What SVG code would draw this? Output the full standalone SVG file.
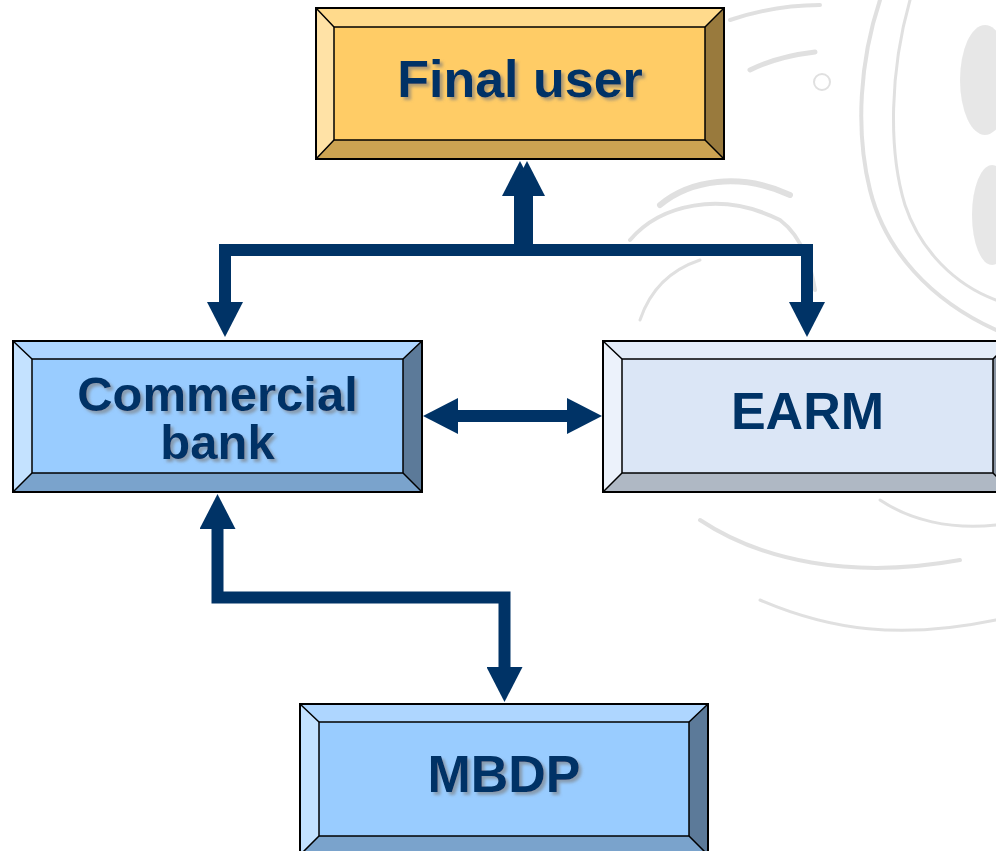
<svg xmlns="http://www.w3.org/2000/svg" width="996" height="851" viewBox="0 0 996 851">
<defs>
<style>
.lbl{font-family:"Liberation Sans",Arial,sans-serif;font-weight:bold;font-size:52px;fill:#003366;text-anchor:middle}
.lbl2{font-size:49px}
.ol{fill:none;stroke:#000;stroke-width:2}
.dg{stroke:#000;stroke-width:1.5}
.con{fill:none;stroke:#003366;stroke-width:12;stroke-linejoin:miter;marker-start:url(#ah);marker-end:url(#ah)}
.wm{fill:none;stroke:#d6d6d6;stroke-linecap:round}
</style>
<marker id="ah" viewBox="0 0 35 36" refX="1" refY="18" markerWidth="35" markerHeight="36" markerUnits="userSpaceOnUse" orient="auto-start-reverse">
<path d="M0,0 L35,18 L0,36 Z" fill="#003366"/>
</marker>
<filter id="sh" x="-10%" y="-20%" width="130%" height="150%">
<feDropShadow dx="3" dy="3" stdDeviation="1.5" flood-color="#7a7a7a" flood-opacity="0.6"/>
</filter>
</defs>
<rect width="996" height="851" fill="#fff"/>
<g id="watermark" opacity="0.75">
<path class="wm" stroke-width="4" d="M880,0 C860,60 855,130 870,190 C885,250 930,300 996,330"/>
<path class="wm" stroke-width="3" d="M910,0 C890,70 888,150 905,205 C920,250 955,285 996,300"/>
<path class="wm" stroke-width="6" d="M660,205 C690,180 740,172 790,195"/>
<path class="wm" stroke-width="4" d="M630,240 C660,205 720,190 780,220 C800,235 810,260 815,290"/>
<path class="wm" stroke-width="3" d="M640,320 C650,290 670,270 700,260"/>
<path class="wm" stroke-width="5" d="M750,70 C770,60 790,55 815,52"/>
<path class="wm" stroke-width="4" d="M730,20 C760,10 790,5 820,5"/>
<ellipse cx="985" cy="80" rx="25" ry="55" fill="#e0e0e0"/>
<ellipse cx="992" cy="215" rx="20" ry="50" fill="#e0e0e0"/>
<circle cx="822" cy="82" r="8" class="wm" stroke-width="2"/>
<path class="wm" stroke-width="4" d="M700,520 C760,560 850,580 960,560"/>
<path class="wm" stroke-width="3" d="M760,600 C830,630 900,640 996,620"/>
<path class="wm" stroke-width="3" d="M880,500 C910,520 950,530 996,525"/>
</g>
<g id="connectors">
<path class="con" d="M520,195 V250 H225 V303"/>
<path class="con" d="M527,195 V250 H807 V303"/>
<path class="con" d="M457,416 H568"/>
<path class="con" d="M217.5,528 V597.5 H504.5 V668"/>
</g>
<g id="final-user">
<polygon points="316,8 724,8 705,27 334,27" fill="#FFDA8C"/>
<polygon points="316,8 334,27 334,140 316,159" fill="#FFE2A6"/>
<polygon points="724,8 724,159 705,140 705,27" fill="#997A3D"/>
<polygon points="316,159 334,140 705,140 724,159" fill="#CCA352"/>
<rect x="334" y="27" width="371" height="113" fill="#FFCC66" class="dg"/>
<path class="dg" d="M316,8 L334,27 M724,8 L705,27 M316,159 L334,140 M724,159 L705,140"/>
<rect x="316" y="8" width="408" height="151" class="ol"/>
<text class="lbl" x="520" y="97" filter="url(#sh)">Final user</text>
</g>
<g id="commercial-bank">
<polygon points="13,341 422,341 403,359 32,359" fill="#AED6FF"/>
<polygon points="13,341 32,359 32,473 13,492" fill="#C4E2FF"/>
<polygon points="422,341 422,492 403,473 403,359" fill="#5C7A99"/>
<polygon points="13,492 32,473 403,473 422,492" fill="#7AA3CC"/>
<rect x="32" y="359" width="371" height="114" fill="#99CCFF" class="dg"/>
<path class="dg" d="M13,341 L32,359 M422,341 L403,359 M13,492 L32,473 M422,492 L403,473"/>
<rect x="13" y="341" width="409" height="151" class="ol"/>
<text class="lbl lbl2" x="217.5" y="411" filter="url(#sh)">Commercial</text>
<text class="lbl lbl2" x="217.5" y="459" filter="url(#sh)">bank</text>
</g>
<g id="earm">
<polygon points="603,341 1012,341 993,359 622,359" fill="#E3ECF8"/>
<polygon points="603,341 622,359 622,473 603,492" fill="#ECF2FB"/>
<polygon points="1012,341 1012,492 993,473 993,359" fill="#8A95A3"/>
<polygon points="603,492 622,473 993,473 1012,492" fill="#AFB8C4"/>
<rect x="622" y="359" width="371" height="114" fill="#DBE6F6" class="dg"/>
<path class="dg" d="M603,341 L622,359 M1012,341 L993,359 M603,492 L622,473 M1012,492 L993,473"/>
<rect x="603" y="341" width="409" height="151" class="ol"/>
<text class="lbl" x="807.5" y="429">EARM</text>
</g>
<g id="mbdp">
<polygon points="300,704 708,704 689,722 319,722" fill="#AED6FF"/>
<polygon points="300,704 319,722 319,836 300,855" fill="#C4E2FF"/>
<polygon points="708,704 708,855 689,836 689,722" fill="#5C7A99"/>
<polygon points="300,855 319,836 689,836 708,855" fill="#7AA3CC"/>
<rect x="319" y="722" width="370" height="114" fill="#99CCFF" class="dg"/>
<path class="dg" d="M300,704 L319,722 M708,704 L689,722 M300,855 L319,836 M708,855 L689,836"/>
<rect x="300" y="704" width="408" height="151" class="ol"/>
<text class="lbl" x="504" y="792" filter="url(#sh)">MBDP</text>
</g>
</svg>
